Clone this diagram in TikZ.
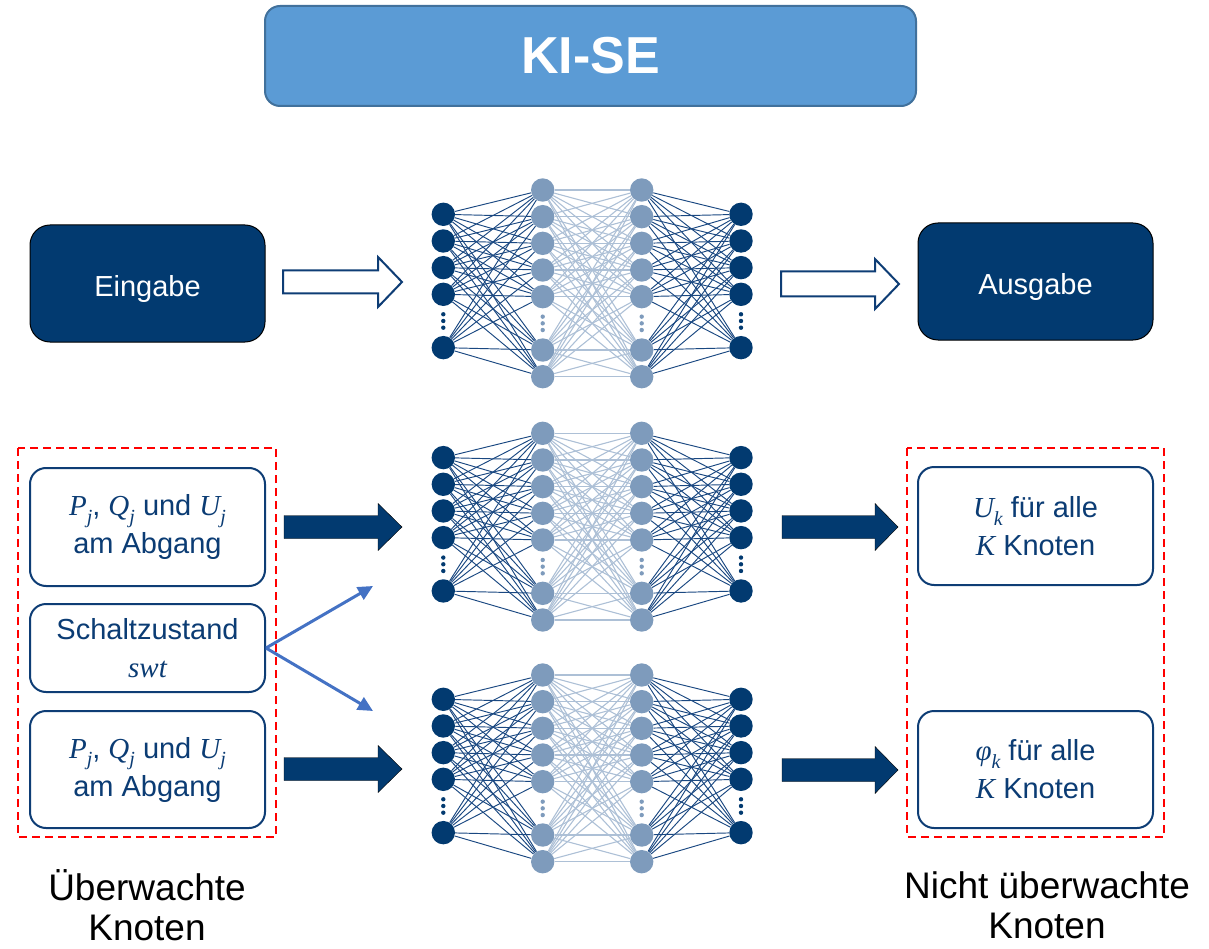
\documentclass[tikz,border=0pt]{standalone}
\usepackage{fontspec}
\setmainfont{Liberation Sans}
\newfontfamily\mathserif{Liberation Serif}
\usetikzlibrary{arrows.meta,backgrounds}

\definecolor{navy}{HTML}{023A70}
\definecolor{hiddenblue}{HTML}{7E9BBC}
\definecolor{deepedge}{HTML}{1A4881}
\definecolor{paleedge}{HTML}{ADC0D6}
\definecolor{boxline}{HTML}{0E3D75}
\definecolor{boxtext}{HTML}{0B3C74}
\definecolor{switchblue}{HTML}{4472C4}
\definecolor{titlefill}{HTML}{5B9BD5}
\definecolor{titleline}{HTML}{41719C}

% italic quantity symbols, with an optional lowered index
\newcommand\vsym[1]{{\mathserif\itshape #1}}
\newcommand\vsub[2]{\vsym{#1}\raisebox{-0.27em}{\fontsize{20}{20}\selectfont\vsym{#2}}}

% one fully connected network: #1 = name prefix, #2 = y of the top hidden neuron
\newcommand\drawnet[2]{%
  \foreach \i/\s in {1/0,2/1,3/2,4/3,5/5} {
    \node[neuron] (#1-in-\i)  at (443.3,{#2+24.3+\s*26.67}) {};
    \node[neuron] (#1-out-\i) at (741,{#2+24.3+\s*26.67}) {};
  }
  \foreach \i/\s in {1/0,2/1,3/2,4/3,5/4,6/6,7/7} {
    \node[hneuron] (#1-ha-\i) at (542.7,{#2+\s*26.67}) {};
    \node[hneuron] (#1-hb-\i) at (641.7,{#2+\s*26.67}) {};
  }
  \foreach \d in {-1,0,1} {
    \fill[navy] (443.3,{#2+24.3+4*26.67+\d*6.7}) circle (2.2pt);
    \fill[navy] (741,{#2+24.3+4*26.67+\d*6.7}) circle (2.2pt);
    \fill[hiddenblue] (542.7,{#2+5*26.67+\d*6.7}) circle (2.2pt);
    \fill[hiddenblue] (641.7,{#2+5*26.67+\d*6.7}) circle (2.2pt);
  }
  \begin{scope}[on background layer]
    \foreach \i in {1,...,5} {
      \foreach \j in {1,...,7} {
        \draw[deeplink] (#1-in-\i) -- (#1-ha-\j);
        \draw[deeplink] (#1-hb-\j) -- (#1-out-\i);
      }
    }
    \foreach \i in {1,...,7} {
      \foreach \j in {1,...,7} {
        \draw[palelink] (#1-ha-\i) -- (#1-hb-\j);
      }
    }
  \end{scope}
}

% block arrow: #1 style, #2 tail x, #3 head base x, #4 tip x, #5 centre y, #6 shaft half width, #7 head half width
\newcommand\blockarrow[7]{%
  \draw[#1] (#2,{#5-#6}) -- (#3,{#5-#6}) -- (#3,{#5-#7}) -- (#4,#5)
    -- (#3,{#5+#7}) -- (#3,{#5+#6}) -- (#2,{#5+#6}) -- cycle;
}

\begin{document}
\begin{tikzpicture}[x=1pt,y=-1pt,
  neuron/.style={circle,fill=navy,inner sep=0pt,minimum size=23.4pt},
  hneuron/.style={circle,fill=hiddenblue,inner sep=0pt,minimum size=23.4pt},
  deeplink/.style={draw=deepedge,line width=0.95pt},
  palelink/.style={draw=paleedge,line width=1.1pt},
  titlebox/.style={draw=titleline,line width=2pt,fill=titlefill,rounded corners=15pt,
    minimum width=651pt,minimum height=100pt,text=white,
    font=\fontsize{52}{60}\selectfont\bfseries},
  darkbox/.style={draw=black,line width=1pt,fill=navy,rounded corners=20pt,
    minimum width=235pt,minimum height=117pt,text=white,text height=27pt,text depth=0pt,
    font=\fontsize{29}{35}\selectfont},
  infobox/.style={draw=boxline,line width=2pt,fill=white,rounded corners=16pt,
    minimum width=235pt,text=boxtext,align=center,
    font=\fontsize{29}{38}\selectfont,
    execute at begin node={\rule{0pt}{27pt}}},
  watchframe/.style={draw=red,line width=2pt,dash pattern=on 8pt off 5pt},
  hollowarrow/.style={draw=boxline,line width=2pt,fill=white,line join=miter},
  solidarrow/.style={fill=navy},
  switcharrow/.style={draw=switchblue,line width=3pt,-{Triangle[length=15pt,width=14pt]}},
  caption/.style={align=center,font=\fontsize{37}{40}\selectfont}
]
\useasboundingbox (0,0) rectangle (1209,949);

% title
\node[titlebox] (title) at (590.5,56) {KI-SE};

% upper row: generic input, network, output
\node[darkbox] (eingabe) at (147.5,283.5) {Eingabe};
\node[darkbox] (ausgabe) at (1035.5,281.5) {Ausgabe};
\blockarrow{hollowarrow}{283}{378}{402}{282}{11.5}{25}
\blockarrow{hollowarrow}{781}{875}{899}{284}{12.5}{25}
\drawnet{top}{190}

% lower rows: two networks
\drawnet{volt}{433.3}
\drawnet{angle}{675}

% monitored inputs
\draw[watchframe] (18,448) rectangle (276,837);
\node[infobox,minimum height=118pt] (pqu1) at (147.5,527)
  {\vsub{P}{j}, \vsub{Q}{j} und \vsub{U}{j}\\am Abgang};
\node[infobox,minimum height=88pt] (swt) at (147.5,648)
  {Schaltzustand\\\vsym{swt}};
\node[infobox,minimum height=117pt] (pqu2) at (147.5,769.5)
  {\vsub{P}{j}, \vsub{Q}{j} und \vsub{U}{j}\\am Abgang};

% unmonitored outputs
\draw[watchframe] (907,448) rectangle (1164,837);
\node[infobox,minimum height=118pt] (uk) at (1035.5,526)
  {\vsub{U}{k} für alle\\\vsym{K} Knoten};
\node[infobox,minimum height=117pt] (phik) at (1035.5,769.5)
  {\vsub{φ}{k} für alle\\\vsym{K} Knoten};

% data flow into and out of the networks
\blockarrow{solidarrow}{284}{378}{402}{527}{11.5}{23.5}
\blockarrow{solidarrow}{284}{378}{402}{769}{11.5}{23.5}
\blockarrow{solidarrow}{782}{875}{898}{527}{11.5}{23.5}
\blockarrow{solidarrow}{782}{875}{898}{770}{11.5}{23.5}

% switching state feeds both networks
\coordinate (toupper) at (373,586);
\coordinate (tolower) at (373,711);
\draw[switcharrow] (swt.east) -- (toupper);
\draw[switcharrow] (swt.east) -- (tolower);

% captions
\node[caption] (monitored) at (147,905) {Überwachte\\Knoten};
\node[caption] (unmonitored) at (1047,905) {Nicht überwachte\\Knoten};
\end{tikzpicture}
\end{document}
